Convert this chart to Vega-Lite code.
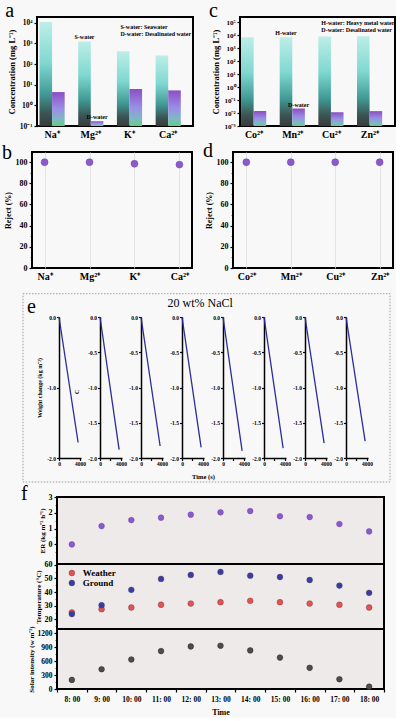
{
  "$schema": "https://vega.github.io/schema/vega-lite/v6.json",
  "background": "#f8f8f8",
  "padding": {"left": 0, "top": 0, "right": 0, "bottom": 0},
  "datasets": {
    "conc_a": [
      {"ion": "Na⁺", "water": "S", "c": 11000},
      {"ion": "Na⁺", "water": "D", "c": 4.4},
      {"ion": "Mg²⁺", "water": "S", "c": 1250, "note": "S-water"},
      {"ion": "Mg²⁺", "water": "D", "c": 0.17, "note": "D-water"},
      {"ion": "K⁺", "water": "S", "c": 420},
      {"ion": "K⁺", "water": "D", "c": 6.2},
      {"ion": "Ca²⁺", "water": "S", "c": 260},
      {"ion": "Ca²⁺", "water": "D", "c": 5.3}
    ],
    "conc_c": [
      {"ion": "Co²⁺", "water": "S", "c": 7000},
      {"ion": "Co²⁺", "water": "D", "c": 0.014},
      {"ion": "Mn²⁺", "water": "S", "c": 7000, "note": "H-water"},
      {"ion": "Mn²⁺", "water": "D", "c": 0.022, "note": "D-water"},
      {"ion": "Cu²⁺", "water": "S", "c": 8000},
      {"ion": "Cu²⁺", "water": "D", "c": 0.0115},
      {"ion": "Zn²⁺", "water": "S", "c": 8200},
      {"ion": "Zn²⁺", "water": "D", "c": 0.014}
    ],
    "rej_b": [
      {"ion": "Na⁺", "r": 99.9}, {"ion": "Mg²⁺", "r": 99.9}, {"ion": "K⁺", "r": 98.4}, {"ion": "Ca²⁺", "r": 97.6}
    ],
    "rej_d": [
      {"ion": "Co²⁺", "r": 99.9}, {"ion": "Mn²⁺", "r": 99.9}, {"ion": "Cu²⁺", "r": 99.9}, {"ion": "Zn²⁺", "r": 99.9}
    ],
    "wc": [
      {"run": 1, "t": 0, "w": 0}, {"run": 1, "t": 3650, "w": -1.78},
      {"run": 2, "t": 0, "w": 0}, {"run": 2, "t": 3650, "w": -1.88},
      {"run": 3, "t": 0, "w": 0}, {"run": 3, "t": 3650, "w": -1.83},
      {"run": 4, "t": 0, "w": 0}, {"run": 4, "t": 3650, "w": -1.85},
      {"run": 5, "t": 0, "w": 0}, {"run": 5, "t": 3650, "w": -1.9},
      {"run": 6, "t": 0, "w": 0}, {"run": 6, "t": 3650, "w": -1.86},
      {"run": 7, "t": 0, "w": 0}, {"run": 7, "t": 3650, "w": -1.79},
      {"run": 8, "t": 0, "w": 0}, {"run": 8, "t": 3650, "w": -1.76}
    ],
    "day": [
      {"time": "8: 00", "er": 0, "solar": 195},
      {"time": "9: 00", "er": 1.16, "solar": 425},
      {"time": "10: 00", "er": 1.54, "solar": 635},
      {"time": "11: 00", "er": 1.69, "solar": 815},
      {"time": "12: 00", "er": 1.88, "solar": 915},
      {"time": "13: 00", "er": 2.03, "solar": 930},
      {"time": "14: 00", "er": 2.11, "solar": 830},
      {"time": "15: 00", "er": 1.78, "solar": 675},
      {"time": "16: 00", "er": 1.73, "solar": 455},
      {"time": "17: 00", "er": 1.29, "solar": 210},
      {"time": "18: 00", "er": 0.82, "solar": 50}
    ],
    "temp": [
      {"time": "8: 00", "series": "Weather", "temp": 25.1},
      {"time": "9: 00", "series": "Weather", "temp": 27.5},
      {"time": "10: 00", "series": "Weather", "temp": 28.7},
      {"time": "11: 00", "series": "Weather", "temp": 30.7},
      {"time": "12: 00", "series": "Weather", "temp": 31.6},
      {"time": "13: 00", "series": "Weather", "temp": 32.6},
      {"time": "14: 00", "series": "Weather", "temp": 33.6},
      {"time": "15: 00", "series": "Weather", "temp": 32.6},
      {"time": "16: 00", "series": "Weather", "temp": 31.6},
      {"time": "17: 00", "series": "Weather", "temp": 30.7},
      {"time": "18: 00", "series": "Weather", "temp": 28.7},
      {"time": "8: 00", "series": "Ground", "temp": 23.9},
      {"time": "9: 00", "series": "Ground", "temp": 30.4},
      {"time": "10: 00", "series": "Ground", "temp": 41.6},
      {"time": "11: 00", "series": "Ground", "temp": 49.6},
      {"time": "12: 00", "series": "Ground", "temp": 52.5},
      {"time": "13: 00", "series": "Ground", "temp": 54.7},
      {"time": "14: 00", "series": "Ground", "temp": 52},
      {"time": "15: 00", "series": "Ground", "temp": 51},
      {"time": "16: 00", "series": "Ground", "temp": 48.8},
      {"time": "17: 00", "series": "Ground", "temp": 44.7},
      {"time": "18: 00", "series": "Ground", "temp": 39.4}
    ]
  },
  "spacing": 11,
  "vconcat": [
    {
      "spacing": 0,
      "vconcat": [
        {
          "bounds": "flush",
          "spacing": 0,
          "hconcat": [
            {"width": 37, "height": 1, "data": {"values": []}, "mark": "point", "view": {"stroke": null}},
            {
              "bounds": "flush",
              "spacing": 47,
              "hconcat": [
                {
                  "width": 156, "height": 109,
                  "title": {"text": "a", "anchor": "start", "frame": "bounds", "dx": -2, "offset": -20, "baseline": "alphabetic"},
                  "data": {"name": "conc_a"},
                  "layer": [
                    {
                      "transform": [{"filter": "datum.water === 'S'"}],
                      "mark": {"type": "bar", "color": {"gradient": "linear", "x1": 0, "y1": 0, "x2": 0, "y2": 1, "stops": [{"offset": 0, "color": "#bdeee8"}, {"offset": 0.4, "color": "#7fd8d0"}, {"offset": 0.7, "color": "#3f9893"}, {"offset": 0.88, "color": "#3b5453"}, {"offset": 1, "color": "#3a3a3a"}]}},
                      "encoding": {
                        "x": {"field": "ion", "type": "nominal", "scale": {"domain": ["Na⁺", "Mg²⁺", "K⁺", "Ca²⁺"], "paddingInner": 0.35, "paddingOuter": 0.19, "align": 0.17}, "axis": {"title": null, "labelAngle": 0, "labelFontSize": 10, "ticks": false, "labelPadding": 3}},
                        "xOffset": {"field": "water", "type": "nominal", "scale": {"domain": ["S", "D"]}},
                        "y": {"field": "c", "type": "quantitative", "scale": {"type": "log", "domain": [0.1, 19000], "nice": false}, "axis": {"title": "Concentration (mg L⁻¹)", "values": [0.1, 1, 10, 100, 1000, 10000], "labelExpr": "datum.value < 0.005 ? '10⁻³' : datum.value < 0.05 ? '10⁻²' : datum.value < 0.5 ? '10⁻¹' : datum.value < 5 ? '10⁰' : datum.value < 50 ? '10¹' : datum.value < 500 ? '10²' : datum.value < 5000 ? '10³' : datum.value < 50000 ? '10⁴' : '10⁵'", "labelFontSize": 7.5, "titleFontSize": 8.5}},
                        "y2": {"datum": 0.1}
                      }
                    },
                    {
                      "transform": [{"filter": "datum.water === 'D'"}],
                      "mark": {"type": "bar", "color": {"gradient": "linear", "x1": 0, "y1": 0, "x2": 0, "y2": 1, "stops": [{"offset": 0, "color": "#8b4fc3"}, {"offset": 0.5, "color": "#9a8fe6"}, {"offset": 0.8, "color": "#7fb7c6"}, {"offset": 1, "color": "#5fd07e"}]}},
                      "encoding": {
                        "x": {"field": "ion", "type": "nominal"},
                        "xOffset": {"field": "water", "type": "nominal", "scale": {"domain": ["S", "D"]}},
                        "y": {"field": "c", "type": "quantitative"},
                        "y2": {"datum": 0.1}
                      }
                    },
                    {
                      "transform": [{"filter": "isValid(datum.note)"}],
                      "mark": {"type": "text", "baseline": "bottom", "dy": -1, "fontSize": 6, "fontWeight": "bold", "color": "black"},
                      "encoding": {
                        "x": {"field": "ion", "type": "nominal"},
                        "xOffset": {"field": "water", "type": "nominal", "scale": {"domain": ["S", "D"]}},
                        "y": {"field": "c", "type": "quantitative"},
                        "text": {"field": "note"}
                      }
                    },
                    {
                      "data": {"values": [{}]},
                      "mark": {"type": "text", "align": "left", "baseline": "top", "fontSize": 6, "fontWeight": "bold", "lineHeight": 7, "dx": -9, "color": "black"},
                      "encoding": {
                        "x": {"datum": "K⁺"},
                        "y": {"datum": 9000},
                        "text": {"value": ["S-water: Seawater", "D-water: Desalinated water"]}
                      }
                    }
                  ]
                },
                {
                  "width": 155, "height": 109,
                  "title": {"text": "c", "anchor": "start", "frame": "bounds", "dx": -3, "offset": -20, "baseline": "alphabetic"},
                  "data": {"name": "conc_c"},
                  "layer": [
                    {
                      "transform": [{"filter": "datum.water === 'S'"}],
                      "mark": {"type": "bar", "color": {"gradient": "linear", "x1": 0, "y1": 0, "x2": 0, "y2": 1, "stops": [{"offset": 0, "color": "#bdeee8"}, {"offset": 0.4, "color": "#7fd8d0"}, {"offset": 0.7, "color": "#3f9893"}, {"offset": 0.88, "color": "#3b5453"}, {"offset": 1, "color": "#3a3a3a"}]}},
                      "encoding": {
                        "x": {"field": "ion", "type": "nominal", "scale": {"domain": ["Co²⁺", "Mn²⁺", "Cu²⁺", "Zn²⁺"], "paddingInner": 0.33, "paddingOuter": 0.17, "align": 0.08}, "axis": {"title": null, "labelAngle": 0, "labelFontSize": 10, "ticks": false, "labelPadding": 3}},
                        "xOffset": {"field": "water", "type": "nominal", "scale": {"domain": ["S", "D"]}},
                        "y": {"field": "c", "type": "quantitative", "scale": {"type": "log", "domain": [0.001, 250000], "nice": false}, "axis": {"title": "Concentration (mg L⁻¹)", "values": [0.001, 0.01, 0.1, 1, 10, 100, 1000, 10000, 100000], "labelExpr": "datum.value < 0.005 ? '10⁻³' : datum.value < 0.05 ? '10⁻²' : datum.value < 0.5 ? '10⁻¹' : datum.value < 5 ? '10⁰' : datum.value < 50 ? '10¹' : datum.value < 500 ? '10²' : datum.value < 5000 ? '10³' : datum.value < 50000 ? '10⁴' : '10⁵'", "labelFontSize": 7, "titleFontSize": 8.5}},
                        "y2": {"datum": 0.001}
                      }
                    },
                    {
                      "transform": [{"filter": "datum.water === 'D'"}],
                      "mark": {"type": "bar", "color": {"gradient": "linear", "x1": 0, "y1": 0, "x2": 0, "y2": 1, "stops": [{"offset": 0, "color": "#8b4fc3"}, {"offset": 0.5, "color": "#9a8fe6"}, {"offset": 0.8, "color": "#7fb7c6"}, {"offset": 1, "color": "#5fd07e"}]}},
                      "encoding": {
                        "x": {"field": "ion", "type": "nominal"},
                        "xOffset": {"field": "water", "type": "nominal", "scale": {"domain": ["S", "D"]}},
                        "y": {"field": "c", "type": "quantitative"},
                        "y2": {"datum": 0.001}
                      }
                    },
                    {
                      "transform": [{"filter": "isValid(datum.note)"}],
                      "mark": {"type": "text", "baseline": "bottom", "dy": -1, "fontSize": 6, "fontWeight": "bold", "color": "black"},
                      "encoding": {
                        "x": {"field": "ion", "type": "nominal"},
                        "xOffset": {"field": "water", "type": "nominal", "scale": {"domain": ["S", "D"]}},
                        "y": {"field": "c", "type": "quantitative"},
                        "text": {"field": "note"}
                      }
                    },
                    {
                      "data": {"values": [{}]},
                      "mark": {"type": "text", "align": "left", "baseline": "top", "fontSize": 6, "fontWeight": "bold", "lineHeight": 6.5, "dx": -10, "color": "black"},
                      "encoding": {
                        "x": {"datum": "Cu²⁺"},
                        "y": {"datum": 138000},
                        "text": {"value": ["H-water: Heavy metal water", "D-water: Desalinated water"]}
                      }
                    }
                  ]
                }
              ]
            }
          ]
        },
        {
          "bounds": "flush",
          "spacing": 0,
          "hconcat": [
            {"width": 32, "height": 1, "data": {"values": []}, "mark": "point", "view": {"stroke": null}},
            {
              "bounds": "flush",
              "spacing": 41,
              "hconcat": [
                {
                  "width": 160, "height": 116,
                  "title": {"text": "b", "anchor": "start", "frame": "bounds", "dx": -2, "offset": -27, "baseline": "alphabetic"},
                  "resolve": {"axis": {"y": "independent"}},
                  "layer": [
                    {
                      "data": {"name": "rej_b"},
                      "mark": {"type": "point", "filled": true, "size": 48, "color": "#8a5bc9", "opacity": 1, "stroke": "#6a3db0", "strokeWidth": 0.5},
                      "encoding": {
                        "x": {"field": "ion", "type": "nominal", "scale": {"type": "point", "padding": 0.28, "domain": ["Na⁺", "Mg²⁺", "K⁺", "Ca²⁺"]}, "axis": {"title": null, "labelAngle": 0, "labelFontSize": 10, "ticks": false, "grid": true, "gridColor": "#dddddd", "gridWidth": 0.8, "labelPadding": 3}},
                        "y": {"field": "r", "type": "quantitative", "scale": {"domain": [0, 109.5], "nice": false}, "axis": {"orient": "left", "title": "Reject (%)", "values": [0, 20, 40, 60, 80, 100], "labelFontSize": 8, "titleFontSize": 8}}
                      }
                    },
                    {
                      "data": {"values": []},
                      "mark": "point",
                      "encoding": {"y": {"field": "r", "type": "quantitative", "axis": {"orient": "left", "title": null, "labels": false, "values": [10, 30, 50, 70, 90], "tickSize": 1.8, "tickWidth": 1}}}
                    }
                  ]
                },
                {
                  "width": 160, "height": 116,
                  "title": {"text": "d", "anchor": "start", "frame": "bounds", "dx": -2, "offset": -25, "baseline": "alphabetic"},
                  "resolve": {"axis": {"y": "independent"}},
                  "layer": [
                    {
                      "data": {"name": "rej_d"},
                      "mark": {"type": "point", "filled": true, "size": 48, "color": "#8a5bc9", "opacity": 1, "stroke": "#6a3db0", "strokeWidth": 0.5},
                      "encoding": {
                        "x": {"field": "ion", "type": "nominal", "scale": {"type": "point", "padding": 0.3, "domain": ["Co²⁺", "Mn²⁺", "Cu²⁺", "Zn²⁺"]}, "axis": {"title": null, "labelAngle": 0, "labelFontSize": 10, "ticks": false, "grid": true, "gridColor": "#dddddd", "gridWidth": 0.8, "labelPadding": 3}},
                        "y": {"field": "r", "type": "quantitative", "scale": {"domain": [0, 109.5], "nice": false}, "axis": {"orient": "left", "title": "Reject (%)", "values": [0, 20, 40, 60, 80, 100], "labelFontSize": 8, "titleFontSize": 8}}
                      }
                    },
                    {
                      "data": {"values": []},
                      "mark": "point",
                      "encoding": {"y": {"field": "r", "type": "quantitative", "axis": {"orient": "left", "title": null, "labels": false, "values": [10, 30, 50, 70, 90], "tickSize": 1.8, "tickWidth": 1}}}
                    }
                  ]
                }
              ]
            }
          ]
        }
      ]
    },
    {
      "spacing": 0,
      "vconcat": [
        {
          "title": {"text": "e", "anchor": "start", "frame": "bounds", "dx": 27, "offset": -40, "baseline": "alphabetic"},
          "vconcat": [
            {
              "title": {"text": "20 wt% NaCl", "anchor": "middle", "frame": "bounds", "dx": 5, "offset": -26, "fontSize": 12, "fontWeight": "normal", "baseline": "alphabetic"},
              "bounds": "flush",
              "spacing": 19,
              "hconcat": [
                {"width": 40, "height": 1, "data": {"values": []}, "mark": "point", "view": {"stroke": null}},
                {
                  "width": 22, "height": 141, "view": {"stroke": null},
                  "layer": [
                    {
                      "data": {"values": [{}]},
                      "mark": {"type": "rect", "fill": null, "fillOpacity": 0, "stroke": "#a0a0a0", "strokeDash": [1.5, 1.5], "strokeWidth": 1, "clip": false},
                      "encoding": {"x": {"datum": -6873}, "x2": {"datum": 63190}, "y": {"datum": 0.3305}, "y2": {"datum": -2.34}}
                    },
                    {
                      "data": {"name": "wc"},
                      "transform": [{"filter": "datum.run == 1"}],
                      "mark": {"type": "line", "color": "#2b2b9c", "strokeWidth": 1.3},
                      "encoding": {
                        "x": {"field": "t", "type": "quantitative", "scale": {"domain": [0, 4200], "nice": false}, "axis": {"title": null, "values": [0, 2000, 4000], "format": "d", "labelExpr": "datum.value == 2000 ? '' : datum.label", "labelFontSize": 5.5, "domain": true, "domainWidth": 1.5, "domainColor": "black", "tickSize": 2.5, "labelPadding": 1}},
                        "y": {"field": "w", "type": "quantitative", "scale": {"domain": [-2, 0], "nice": false}, "axis": {"title": "Weight change (kg m⁻²)", "titleFontSize": 6, "titlePadding": 4, "values": [0, -0.5, -1, -1.5, -2], "labelExpr": "replace(format(datum.value, '.1f'), '−', '-')", "labelFontSize": 5.5, "domain": true, "domainWidth": 1.5, "domainColor": "black", "tickSize": 2.5, "labelPadding": 1}}
                      }
                    },
                    {
                      "data": {"values": [{}]},
                      "mark": {"type": "text", "angle": 270, "fontSize": 6, "fontWeight": "bold", "color": "black"},
                      "encoding": {"x": {"datum": 3430}, "y": {"datum": -1.06}, "text": {"value": "C"}}
                    }
                  ]
                },
                {
                  "width": 22, "height": 141, "view": {"stroke": null},
                  "data": {"name": "wc"},
                  "transform": [{"filter": "datum.run == 2"}],
                  "mark": {"type": "line", "color": "#2b2b9c", "strokeWidth": 1.3},
                  "encoding": {
                    "x": {"field": "t", "type": "quantitative", "scale": {"domain": [0, 4200], "nice": false}, "axis": {"title": null, "values": [0, 2000, 4000], "format": "d", "labelExpr": "datum.value == 2000 ? '' : datum.label", "labelFontSize": 5.5, "domain": true, "domainWidth": 1.5, "domainColor": "black", "tickSize": 2.5, "labelPadding": 1}},
                    "y": {"field": "w", "type": "quantitative", "scale": {"domain": [-2, 0], "nice": false}, "axis": {"title": null, "values": [0, -0.5, -1, -1.5, -2], "labelExpr": "replace(format(datum.value, '.1f'), '−', '-')", "labelFontSize": 5.5, "domain": true, "domainWidth": 1.5, "domainColor": "black", "tickSize": 2.5, "labelPadding": 1}}
                  }
                },
                {
                  "width": 22, "height": 141, "view": {"stroke": null},
                  "data": {"name": "wc"},
                  "transform": [{"filter": "datum.run == 3"}],
                  "mark": {"type": "line", "color": "#2b2b9c", "strokeWidth": 1.3},
                  "encoding": {
                    "x": {"field": "t", "type": "quantitative", "scale": {"domain": [0, 4200], "nice": false}, "axis": {"title": null, "values": [0, 2000, 4000], "format": "d", "labelExpr": "datum.value == 2000 ? '' : datum.label", "labelFontSize": 5.5, "domain": true, "domainWidth": 1.5, "domainColor": "black", "tickSize": 2.5, "labelPadding": 1}},
                    "y": {"field": "w", "type": "quantitative", "scale": {"domain": [-2, 0], "nice": false}, "axis": {"title": null, "values": [0, -0.5, -1, -1.5, -2], "labelExpr": "replace(format(datum.value, '.1f'), '−', '-')", "labelFontSize": 5.5, "domain": true, "domainWidth": 1.5, "domainColor": "black", "tickSize": 2.5, "labelPadding": 1}}
                  }
                },
                {
                  "width": 22, "height": 141, "view": {"stroke": null},
                  "data": {"name": "wc"},
                  "transform": [{"filter": "datum.run == 4"}],
                  "mark": {"type": "line", "color": "#2b2b9c", "strokeWidth": 1.3},
                  "encoding": {
                    "x": {"field": "t", "type": "quantitative", "scale": {"domain": [0, 4200], "nice": false}, "axis": {"title": "Time (s)", "titleX": 21, "titleY": 20.5, "titleAlign": "center", "titleBaseline": "alphabetic", "titleFontSize": 6.5, "values": [0, 2000, 4000], "format": "d", "labelExpr": "datum.value == 2000 ? '' : datum.label", "labelFontSize": 5.5, "domain": true, "domainWidth": 1.5, "domainColor": "black", "tickSize": 2.5, "labelPadding": 1}},
                    "y": {"field": "w", "type": "quantitative", "scale": {"domain": [-2, 0], "nice": false}, "axis": {"title": null, "values": [0, -0.5, -1, -1.5, -2], "labelExpr": "replace(format(datum.value, '.1f'), '−', '-')", "labelFontSize": 5.5, "domain": true, "domainWidth": 1.5, "domainColor": "black", "tickSize": 2.5, "labelPadding": 1}}
                  }
                },
                {
                  "width": 22, "height": 141, "view": {"stroke": null},
                  "data": {"name": "wc"},
                  "transform": [{"filter": "datum.run == 5"}],
                  "mark": {"type": "line", "color": "#2b2b9c", "strokeWidth": 1.3},
                  "encoding": {
                    "x": {"field": "t", "type": "quantitative", "scale": {"domain": [0, 4200], "nice": false}, "axis": {"title": null, "values": [0, 2000, 4000], "format": "d", "labelExpr": "datum.value == 2000 ? '' : datum.label", "labelFontSize": 5.5, "domain": true, "domainWidth": 1.5, "domainColor": "black", "tickSize": 2.5, "labelPadding": 1}},
                    "y": {"field": "w", "type": "quantitative", "scale": {"domain": [-2, 0], "nice": false}, "axis": {"title": null, "values": [0, -0.5, -1, -1.5, -2], "labelExpr": "replace(format(datum.value, '.1f'), '−', '-')", "labelFontSize": 5.5, "domain": true, "domainWidth": 1.5, "domainColor": "black", "tickSize": 2.5, "labelPadding": 1}}
                  }
                },
                {
                  "width": 22, "height": 141, "view": {"stroke": null},
                  "data": {"name": "wc"},
                  "transform": [{"filter": "datum.run == 6"}],
                  "mark": {"type": "line", "color": "#2b2b9c", "strokeWidth": 1.3},
                  "encoding": {
                    "x": {"field": "t", "type": "quantitative", "scale": {"domain": [0, 4200], "nice": false}, "axis": {"title": null, "values": [0, 2000, 4000], "format": "d", "labelExpr": "datum.value == 2000 ? '' : datum.label", "labelFontSize": 5.5, "domain": true, "domainWidth": 1.5, "domainColor": "black", "tickSize": 2.5, "labelPadding": 1}},
                    "y": {"field": "w", "type": "quantitative", "scale": {"domain": [-2, 0], "nice": false}, "axis": {"title": null, "values": [0, -0.5, -1, -1.5, -2], "labelExpr": "replace(format(datum.value, '.1f'), '−', '-')", "labelFontSize": 5.5, "domain": true, "domainWidth": 1.5, "domainColor": "black", "tickSize": 2.5, "labelPadding": 1}}
                  }
                },
                {
                  "width": 22, "height": 141, "view": {"stroke": null},
                  "data": {"name": "wc"},
                  "transform": [{"filter": "datum.run == 7"}],
                  "mark": {"type": "line", "color": "#2b2b9c", "strokeWidth": 1.3},
                  "encoding": {
                    "x": {"field": "t", "type": "quantitative", "scale": {"domain": [0, 4200], "nice": false}, "axis": {"title": null, "values": [0, 2000, 4000], "format": "d", "labelExpr": "datum.value == 2000 ? '' : datum.label", "labelFontSize": 5.5, "domain": true, "domainWidth": 1.5, "domainColor": "black", "tickSize": 2.5, "labelPadding": 1}},
                    "y": {"field": "w", "type": "quantitative", "scale": {"domain": [-2, 0], "nice": false}, "axis": {"title": null, "values": [0, -0.5, -1, -1.5, -2], "labelExpr": "replace(format(datum.value, '.1f'), '−', '-')", "labelFontSize": 5.5, "domain": true, "domainWidth": 1.5, "domainColor": "black", "tickSize": 2.5, "labelPadding": 1}}
                  }
                },
                {
                  "width": 22, "height": 141, "view": {"stroke": null},
                  "data": {"name": "wc"},
                  "transform": [{"filter": "datum.run == 8"}],
                  "mark": {"type": "line", "color": "#2b2b9c", "strokeWidth": 1.3},
                  "encoding": {
                    "x": {"field": "t", "type": "quantitative", "scale": {"domain": [0, 4200], "nice": false}, "axis": {"title": null, "values": [0, 2000, 4000], "format": "d", "labelExpr": "datum.value == 2000 ? '' : datum.label", "labelFontSize": 5.5, "domain": true, "domainWidth": 1.5, "domainColor": "black", "tickSize": 2.5, "labelPadding": 1}},
                    "y": {"field": "w", "type": "quantitative", "scale": {"domain": [-2, 0], "nice": false}, "axis": {"title": null, "values": [0, -0.5, -1, -1.5, -2], "labelExpr": "replace(format(datum.value, '.1f'), '−', '-')", "labelFontSize": 5.5, "domain": true, "domainWidth": 1.5, "domainColor": "black", "tickSize": 2.5, "labelPadding": 1}}
                  }
                }
              ]
            }
          ]
        },
        {
          "bounds": "flush",
          "spacing": 0,
          "hconcat": [
            {"width": 57, "height": 1, "data": {"values": []}, "mark": "point", "view": {"stroke": null}},
            {
              "bounds": "flush",
              "spacing": 0,
              "vconcat": [
                {
                  "width": 327, "height": 67,
                  "view": {"fill": "#eeeaea", "stroke": "black", "strokeWidth": 2},
                  "title": {"text": "f", "anchor": "start", "frame": "bounds", "dx": -17, "offset": -27, "baseline": "alphabetic"},
                  "resolve": {"axis": {"y": "independent"}},
                  "layer": [
                    {
                      "data": {"name": "day"},
                      "mark": {"type": "point", "filled": true, "size": 32, "color": "#8a5bc9", "opacity": 1, "stroke": "#6a3db0", "strokeWidth": 0.5},
                      "encoding": {
                        "x": {"field": "time", "type": "ordinal", "sort": null, "scale": {"paddingInner": 0, "paddingOuter": 0}, "axis": null},
                        "y": {"field": "er", "type": "quantitative", "scale": {"domain": [-1.24, 3], "nice": false}, "axis": {"orient": "left", "title": "ER (kg m⁻² h⁻¹)", "values": [0, 1, 2, 3], "labelFontSize": 8, "titleFontSize": 7, "labelOverlap": false}}
                      }
                    },
                    {
                      "data": {"values": []},
                      "mark": "point",
                      "encoding": {"y": {"field": "er", "type": "quantitative", "axis": {"orient": "left", "title": null, "labels": false, "values": [-0.5, 0.5, 1.5, 2.5], "tickSize": 1.8, "tickWidth": 1}}}
                    }
                  ]
                },
                {
                  "width": 327, "height": 65,
                  "view": {"fill": "#eeeaea", "stroke": "black", "strokeWidth": 2},
                  "resolve": {"axis": {"y": "independent"}},
                  "layer": [
                    {
                      "data": {"name": "temp"},
                      "mark": {"type": "point", "filled": true, "size": 34, "opacity": 1, "stroke": "#444444", "strokeWidth": 0.4},
                      "encoding": {
                        "x": {"field": "time", "type": "ordinal", "sort": null, "scale": {"paddingInner": 0, "paddingOuter": 0}, "axis": null},
                        "y": {"field": "temp", "type": "quantitative", "scale": {"domain": [13, 60.5], "nice": false}, "axis": {"orient": "left", "title": "Temperature (°C)", "values": [20, 30, 40, 50, 60], "labelFontSize": 8, "titleFontSize": 7, "labelOverlap": false}},
                        "color": {"field": "series", "type": "nominal", "scale": {"domain": ["Weather", "Ground"], "range": ["#e9504f", "#3b3ba6"]}, "legend": null}
                      }
                    },
                    {
                      "data": {"values": []},
                      "mark": "point",
                      "encoding": {"y": {"field": "temp", "type": "quantitative", "axis": {"orient": "left", "title": null, "labels": false, "values": [15, 25, 35, 45, 55], "tickSize": 1.8, "tickWidth": 1}}}
                    },
                    {
                      "data": {"values": [{}]},
                      "mark": {"type": "point", "filled": true, "size": 34, "opacity": 1, "color": "#e9504f", "stroke": "#444444", "strokeWidth": 0.4},
                      "encoding": {"x": {"datum": "8: 00"}, "y": {"datum": 53.9, "axis": null}}
                    },
                    {
                      "data": {"values": [{}]},
                      "mark": {"type": "point", "filled": true, "size": 34, "opacity": 1, "color": "#3b3ba6", "stroke": "#444444", "strokeWidth": 0.4},
                      "encoding": {"x": {"datum": "8: 00"}, "y": {"datum": 46.6, "axis": null}}
                    },
                    {
                      "data": {"values": [{}]},
                      "mark": {"type": "text", "align": "left", "baseline": "middle", "dx": 11, "fontSize": 9, "fontWeight": "bold", "color": "black"},
                      "encoding": {"x": {"datum": "8: 00"}, "y": {"datum": 53.9, "axis": null}, "text": {"value": "Weather"}}
                    },
                    {
                      "data": {"values": [{}]},
                      "mark": {"type": "text", "align": "left", "baseline": "middle", "dx": 11, "fontSize": 9, "fontWeight": "bold", "color": "black"},
                      "encoding": {"x": {"datum": "8: 00"}, "y": {"datum": 46.6, "axis": null}, "text": {"value": "Ground"}}
                    }
                  ]
                },
                {
                  "width": 327, "height": 60,
                  "view": {"fill": "#eeeaea", "stroke": "black", "strokeWidth": 2},
                  "resolve": {"axis": {"y": "independent"}},
                  "layer": [
                    {
                      "data": {"name": "day"},
                      "mark": {"type": "point", "filled": true, "size": 32, "color": "#4d4d4d", "opacity": 1, "stroke": "#222222", "strokeWidth": 0.5},
                      "encoding": {
                        "x": {"field": "time", "type": "ordinal", "sort": null, "scale": {"paddingInner": 0, "paddingOuter": 0}, "axis": {"title": "Time", "tickBand": "extent", "labelAngle": 0, "labelFontSize": 7.5, "titleFontSize": 8, "titlePadding": 6, "labelPadding": 3}},
                        "y": {"field": "solar", "type": "quantitative", "scale": {"domain": [0, 1290], "nice": false}, "axis": {"orient": "left", "title": "Solar intensity (w m⁻²)", "values": [0, 300, 600, 900, 1200], "format": "d", "labelFontSize": 7.5, "titleFontSize": 7, "labelOverlap": false}}
                      }
                    },
                    {
                      "data": {"values": []},
                      "mark": "point",
                      "encoding": {"y": {"field": "solar", "type": "quantitative", "axis": {"orient": "left", "title": null, "labels": false, "values": [150, 450, 750, 1050], "tickSize": 1.8, "tickWidth": 1}}}
                    }
                  ]
                }
              ]
            }
          ]
        }
      ]
    }
  ],
  "config": {
    "font": "Liberation Serif",
    "view": {"stroke": "black", "strokeWidth": 2},
    "title": {"font": "Liberation Serif", "fontSize": 20, "fontWeight": "normal", "color": "black", "anchor": "start"},
    "axis": {"domain": false, "grid": false, "tickColor": "black", "tickWidth": 1.2, "tickSize": 3, "labelFont": "Liberation Serif", "labelFontWeight": "bold", "labelColor": "black", "labelFontSize": 8, "labelPadding": 2, "labelOverlap": false, "labelFlush": false, "titleFont": "Liberation Serif", "titleFontWeight": "bold", "titleColor": "black", "titleFontSize": 8, "titlePadding": 3},
    "legend": {"labelFont": "Liberation Serif", "labelFontWeight": "bold", "labelColor": "black"},
    "text": {"font": "Liberation Serif"}
  }
}
